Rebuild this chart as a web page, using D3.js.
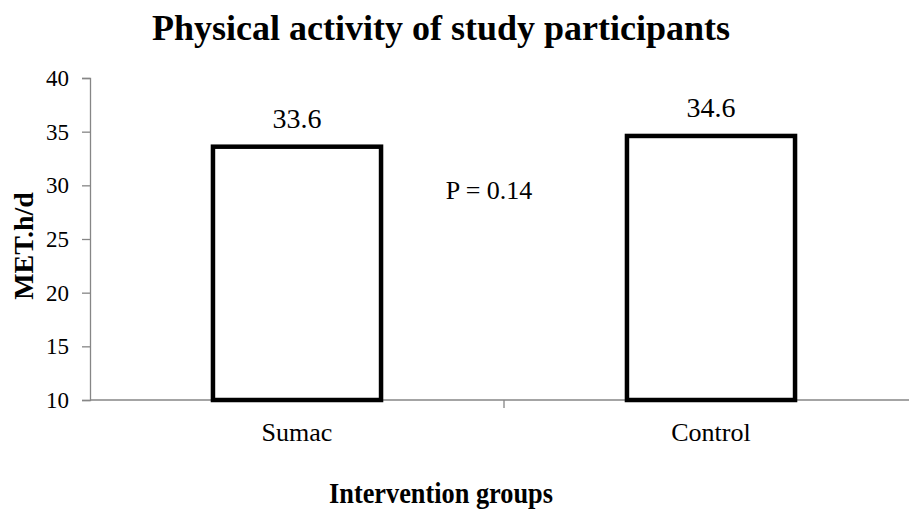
<!DOCTYPE html>
<html>
<head>
<meta charset="utf-8">
<script src="https://cdn.jsdelivr.net/npm/d3@7"></script>
</head>
<body style="margin:0; background:#fff">
<div id="chart"></div>
<script>
const width = 909
const height = 512
const marginLeft = 90
const marginTop = 78
const marginBottom = 112
const fontSerif = "'Liberation Serif'"
const axisGrey = "#868686"

// chart data
const groups = ["Sumac", "Control"]
const values = [33.6, 34.6]
const valueLabels = ["33.6", "34.6"]
const yTicks = [10, 15, 20, 25, 30, 35, 40]
const pText = "P = 0.14"
const pLevel = 28.7

const svg = d3.select("#chart")
              .append("svg")
                .attr("width", width)
                .attr("height", height)

// scales - the category axis runs a little past the right edge
const xScale = d3.scaleBand()
                 .domain(groups)
                 .range([marginLeft, 918])

const yScale = d3.scaleLinear()
                 .domain([10, 40])
                 .range([height - marginBottom, marginTop])

const barW = xScale.bandwidth() * 0.406
const mid = d => xScale(d) + xScale.bandwidth() / 2

// title
svg.append("text")
   .attr("x", 441)
   .attr("y", 40)
   .attr("text-anchor", "middle")
   .style("font-family", fontSerif)
   .style("font-size", "36px")
   .style("font-weight", "bold")
   .text("Physical activity of study participants")

// y axis
const yAxis = svg.append("g")
                 .attr("transform", `translate(${marginLeft}, 0)`)
                 .call(d3.axisLeft(yScale).tickValues(yTicks).tickSize(8).tickPadding(13))
yAxis.select(".domain").attr("stroke", axisGrey).attr("stroke-width", 1.3)
yAxis.selectAll(".tick line").attr("stroke", axisGrey).attr("stroke-width", 1.3)
yAxis.selectAll(".tick text")
     .attr("fill", "#000")
     .style("font-family", fontSerif)
     .style("font-size", "23px")

// x axis - line plus a tick between categories
const xAxisG = svg.append("g")
                  .attr("transform", `translate(0, ${yScale(10)})`)
xAxisG.append("line")
      .attr("x1", marginLeft).attr("x2", width)
      .attr("stroke", axisGrey).attr("stroke-width", 1.3)
xAxisG.selectAll(".sep")
      .data(groups.slice(1))
      .join("line")
        .attr("x1", d => xScale(d)).attr("x2", d => xScale(d))
        .attr("y1", 0).attr("y2", 8)
        .attr("stroke", axisGrey).attr("stroke-width", 1.3)
xAxisG.selectAll(".cat")
      .data(groups)
      .join("text")
        .attr("x", d => mid(d))
        .attr("y", 41)
        .attr("text-anchor", "middle")
        .style("font-family", fontSerif)
        .style("font-size", "26px")
        .text(d => d)

// bars
svg.selectAll(".bar")
   .data(values)
   .join("rect")
     .attr("class", "bar")
     .attr("x", (d, i) => mid(groups[i]) - barW / 2)
     .attr("y", d => yScale(d))
     .attr("width", barW)
     .attr("height", d => yScale(10) - yScale(d))
     .attr("fill", "#fff")
     .attr("stroke", "#000")
     .attr("stroke-width", 4.5)

// value labels
svg.selectAll(".val")
   .data(values)
   .join("text")
     .attr("x", (d, i) => mid(groups[i]))
     .attr("y", d => yScale(d) - 19)
     .attr("text-anchor", "middle")
     .style("font-family", fontSerif)
     .style("font-size", "28px")
     .text((d, i) => valueLabels[i])

// p value annotation
svg.append("text")
   .attr("x", xScale("Control") - 15)
   .attr("y", yScale(pLevel))
   .attr("text-anchor", "middle")
   .style("font-family", fontSerif)
   .style("font-size", "26px")
   .text(pText)

// axis titles
svg.append("text")
   .attr("transform", `translate(33, ${yScale(25) + 7}) rotate(-90)`)
   .attr("text-anchor", "middle")
   .style("font-family", fontSerif)
   .style("font-size", "28px")
   .style("font-weight", "bold")
   .text("MET.h/d")

// x title is a slightly condensed bold face in the original
svg.append("text")
   .attr("x", 441)
   .attr("y", 503)
   .attr("text-anchor", "middle")
   .attr("textLength", 224)
   .attr("lengthAdjust", "spacingAndGlyphs")
   .style("font-family", fontSerif)
   .style("font-size", "30px")
   .style("font-weight", "bold")
   .text("Intervention groups")
</script>
</body>
</html>
